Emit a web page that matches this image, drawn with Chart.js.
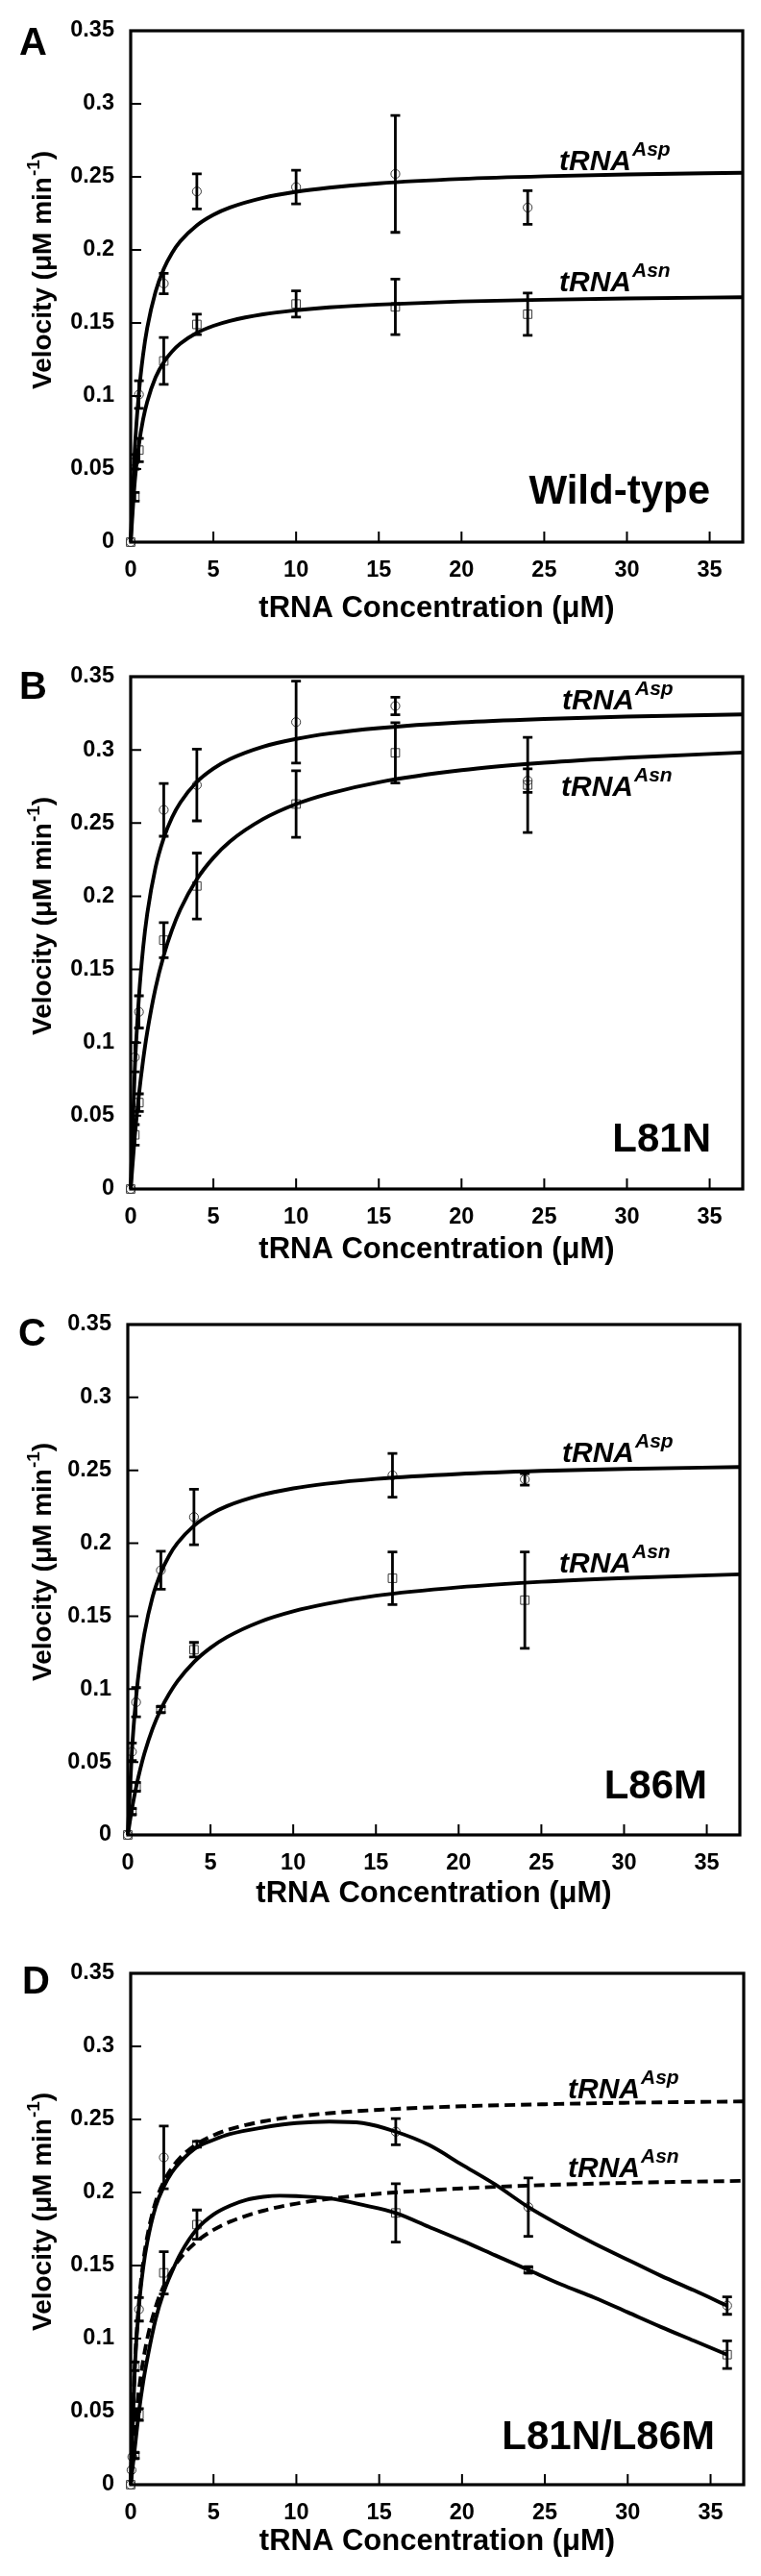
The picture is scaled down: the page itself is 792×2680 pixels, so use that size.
<!DOCTYPE html>
<html><head><meta charset="utf-8">
<script src="https://cdn.jsdelivr.net/npm/chart.js@4.4.1/dist/chart.umd.min.js"></script>
<style>
html,body{margin:0;padding:0;background:#fff;}
#wrap{position:relative;width:792px;height:2680px;background:#fff;overflow:hidden;}
.panel{position:absolute;left:0;width:792px;height:670px;}
canvas{display:block;}
</style></head><body>
<div id="wrap">
<div class="panel" style="top:0px"><canvas id="cA" width="792" height="670"></canvas></div>
<div class="panel" style="top:670px"><canvas id="cB" width="792" height="670"></canvas></div>
<div class="panel" style="top:1340px"><canvas id="cC" width="792" height="670"></canvas></div>
<div class="panel" style="top:2010px"><canvas id="cD" width="792" height="670"></canvas></div>
</div>
<script>
// ---------- tick values / labels ----------
const xTickValues = [0, 5, 10, 15, 20, 25, 30, 35];
const xTickLabels = ['0', '5', '10', '15', '20', '25', '30', '35'];
const yTickValues = [0, 0.05, 0.1, 0.15, 0.2, 0.25, 0.3, 0.35];
const yTickLabels = ['0', '0.05', '0.1', '0.15', '0.2', '0.25', '0.3', '0.35'];

// ---------- Panel A: Wild-type ----------
const aAspConc = [0, 0.25, 0.5, 2, 4, 10, 16, 24];
const aAspVel  = [0, 0.055, 0.101, 0.177, 0.240, 0.243, 0.252, 0.229];
const aAspErr  = [0, 0.005, 0.0095, 0.007, 0.012, 0.0115, 0.040, 0.0115];
const aAsnConc = [0, 0.25, 0.5, 2, 4, 10, 16, 24];
const aAsnVel  = [0, 0.031, 0.063, 0.124, 0.149, 0.163, 0.161, 0.156];
const aAsnErr  = [0, 0.003, 0.008, 0.016, 0.007, 0.009, 0.019, 0.0145];
const fitConc  = [0, 0.25, 0.5, 0.75, 1, 1.5, 2, 2.5, 3, 4, 5, 6, 8, 10, 12, 15, 20, 25, 30, 37];
const aAspFit  = [0, 0.0639, 0.1024, 0.1281, 0.1466, 0.1712, 0.1870, 0.1979, 0.2059, 0.2168, 0.2240, 0.2290, 0.2356, 0.2398, 0.2426, 0.2456, 0.2486, 0.2504, 0.2516, 0.2528];
const aAsnFit  = [0, 0.0415, 0.0668, 0.0839, 0.0961, 0.1126, 0.1231, 0.1304, 0.1358, 0.1432, 0.1480, 0.1514, 0.1559, 0.1587, 0.1607, 0.1626, 0.1647, 0.1659, 0.1668, 0.1676];

// ---------- Panel B: L81N ----------
const bAspConc = [0, 0.25, 0.5, 2, 4, 10, 16, 24];
const bAspVel  = [0, 0.090, 0.121, 0.259, 0.276, 0.319, 0.330, 0.279];
const bAspErr  = [0, 0.010, 0.011, 0.018, 0.0245, 0.028, 0.006, 0.008];
const bAsnConc = [0, 0.25, 0.5, 2, 4, 10, 16, 24];
const bAsnVel  = [0, 0.037, 0.059, 0.170, 0.207, 0.263, 0.298, 0.276];
const bAsnErr  = [0, 0.007, 0.006, 0.012, 0.0225, 0.0227, 0.0206, 0.0325];
const bAspFit  = [0, 0.0819, 0.1313, 0.1644, 0.1880, 0.2196, 0.2398, 0.2538, 0.2640, 0.2781, 0.2872, 0.2937, 0.3022, 0.3075, 0.3112, 0.3149, 0.3188, 0.3211, 0.3227, 0.3242];
const bAsnFit  = [0, 0.0360, 0.0645, 0.0878, 0.1071, 0.1372, 0.1596, 0.1770, 0.1909, 0.2116, 0.2263, 0.2374, 0.2527, 0.2630, 0.2702, 0.2779, 0.2861, 0.2912, 0.2947, 0.2982];

// ---------- Panel C: L86M ----------
const cAspConc = [0, 0.25, 0.5, 2, 4, 16, 24];
const cAspVel  = [0, 0.057, 0.091, 0.1815, 0.218, 0.2466, 0.2438];
const cAspErr  = [0, 0.006, 0.010, 0.013, 0.019, 0.015, 0.004];
const cAsnConc = [0, 0.25, 0.5, 2, 4, 16, 24];
const cAsnVel  = [0, 0.016, 0.033, 0.086, 0.127, 0.176, 0.161];
const cAsnErr  = [0, 0.002, 0.003, 0.002, 0.005, 0.018, 0.033];
const cAspFit  = [0, 0.0575, 0.0941, 0.1194, 0.1379, 0.1633, 0.1798, 0.1915, 0.2001, 0.2120, 0.2199, 0.2255, 0.2329, 0.2376, 0.2408, 0.2441, 0.2475, 0.2496, 0.2510, 0.2523];
const cAsnFit  = [0, 0.0178, 0.0326, 0.0450, 0.0557, 0.0729, 0.0862, 0.0967, 0.1054, 0.1186, 0.1283, 0.1357, 0.1462, 0.1533, 0.1584, 0.1640, 0.1698, 0.1736, 0.1762, 0.1787];

// ---------- Panel D: L81N/L86M ----------
const dAspConc = [0, 0.05, 0.1, 0.25, 0.5, 2, 4, 16, 24, 36];
const dAspVel  = [0, 0.010, 0.019, 0.081, 0.120, 0.224, 0.233, 0.2416, 0.190, 0.1226];
const dAspErr  = [0, 0, 0, 0.003, 0.008, 0.0215, 0.002, 0.009, 0.020, 0.006];
const dAsnConc = [0, 0.25, 0.5, 2, 4, 16, 24, 36];
const dAsnVel  = [0, 0.020, 0.048, 0.145, 0.178, 0.186, 0.147, 0.089];
const dAsnErr  = [0, 0.002, 0.004, 0.0145, 0.010, 0.020, 0.002, 0.0095];
const dAspDashFit = [0, 0.0815, 0.1248, 0.1517, 0.1699, 0.1933, 0.2075, 0.2171, 0.2240, 0.2332, 0.2392, 0.2433, 0.2487, 0.2520, 0.2543, 0.2566, 0.2590, 0.2604, 0.2614, 0.2623];
const dAsnDashFit = [0, 0.0383, 0.0650, 0.0847, 0.0998, 0.1214, 0.1362, 0.1469, 0.1551, 0.1666, 0.1744, 0.1800, 0.1875, 0.1924, 0.1957, 0.1992, 0.2028, 0.2051, 0.2066, 0.2080];
const dAspSolidConc = [0, 0.25, 0.5, 0.75, 1, 1.5, 2, 2.5, 3, 4, 5, 6, 8, 10, 12, 14, 16, 18, 20, 22, 24, 26, 28, 30, 32, 34, 36];
const dAspSolidFit  = [0, 0.080, 0.122, 0.148, 0.166, 0.190, 0.204, 0.214, 0.221, 0.231, 0.236, 0.240, 0.2445, 0.2475, 0.2485, 0.2475, 0.2416, 0.2325, 0.219, 0.2055, 0.190, 0.177, 0.165, 0.154, 0.143, 0.133, 0.1225];
const dAsnSolidConc = [0, 0.25, 0.5, 0.75, 1, 1.5, 2, 2.5, 3, 4, 5, 6, 7, 8, 9, 10, 12, 14, 16, 18, 20, 22, 24, 26, 28, 30, 32, 34, 36];
const dAsnSolidFit  = [0, 0.025, 0.050, 0.070, 0.086, 0.113, 0.132, 0.146, 0.158, 0.175, 0.185, 0.191, 0.195, 0.197, 0.1978, 0.1975, 0.196, 0.1915, 0.186, 0.1765, 0.167, 0.157, 0.147, 0.137, 0.128, 0.118, 0.108, 0.0985, 0.089];

// ---------- drawing helpers ----------
const FONT = "'Liberation Sans', Arial, Helvetica, sans-serif";
Chart.defaults.font.family = FONT;
Chart.defaults.color = '#000';

function pts(xs, ys) { return xs.map((x, i) => ({ x: x, y: ys[i] })); }

function markerSet(label, xs, ys, errs, style) {
  return {
    label: label, type: 'scatter', data: pts(xs, ys), errors: errs, showLine: false,
    pointStyle: style, pointRadius: style === 'rect' ? 6.2 : 4.6, pointBorderWidth: 1,
    pointBorderColor: '#3a3a3a', pointBackgroundColor: 'rgba(255,255,255,0)',
    order: 3, clip: 14
  };
}
function curveSet(label, xs, ys, dash) {
  return {
    label: label, type: 'line', data: pts(xs, ys), borderColor: '#000', borderWidth: 3.9,
    borderDash: dash || [], pointRadius: 0, cubicInterpolationMode: 'monotone', fill: false,
    order: 1, clip: 4
  };
}

function drawSup(ctx, base, sup, x, y) {
  ctx.textAlign = 'left';
  ctx.textBaseline = 'alphabetic';
  ctx.font = 'italic bold 30px ' + FONT;
  ctx.fillText(base, x, y);
  const w = ctx.measureText(base).width;
  ctx.font = 'italic bold 21px ' + FONT;
  ctx.fillText(sup, x + w + 1, y - 15);
}

function makeDeco(spec) {
  return {
    id: 'deco' + spec.letter,
    afterDatasetsDraw(chart) {
      const ctx = chart.ctx, xs = chart.scales.x, ys = chart.scales.y;
      ctx.save();
      ctx.strokeStyle = '#000';
      ctx.lineWidth = 2.8;
      chart.data.datasets.forEach(ds => {
        if (!ds.errors) return;
        ds.data.forEach((p, i) => {
          const e = ds.errors[i];
          if (!e) return;
          const px = xs.getPixelForValue(p.x);
          const y1 = ys.getPixelForValue(p.y + e), y2 = ys.getPixelForValue(p.y - e);
          ctx.beginPath();
          ctx.moveTo(px, y1); ctx.lineTo(px, y2);
          ctx.moveTo(px - 5, y1); ctx.lineTo(px + 5, y1);
          ctx.moveTo(px - 5, y2); ctx.lineTo(px + 5, y2);
          ctx.stroke();
        });
      });
      ctx.restore();
    },
    afterDraw(chart) {
      const ctx = chart.ctx, a = chart.chartArea, xs = chart.scales.x, ys = chart.scales.y;
      ctx.save();
      ctx.strokeStyle = '#000';
      ctx.lineWidth = 3.2;
      ctx.strokeRect(a.left, a.top, a.right - a.left, a.bottom - a.top);
      ctx.lineWidth = 2;
      ctx.beginPath();
      xs.ticks.forEach(t => {
        const px = xs.getPixelForValue(t.value);
        ctx.moveTo(px, a.bottom); ctx.lineTo(px, a.bottom - 11);
      });
      ys.ticks.forEach(t => {
        const py = ys.getPixelForValue(t.value);
        ctx.moveTo(a.left, py); ctx.lineTo(a.left + 11, py);
      });
      ctx.stroke();

      ctx.fillStyle = '#000';
      ctx.textBaseline = 'alphabetic';
      ctx.textAlign = 'left';
      ctx.font = 'bold 40px ' + FONT;
      ctx.fillText(spec.letter, spec.letterX, spec.letterY);
      ctx.font = 'bold 42px ' + FONT;
      ctx.textAlign = 'right';
      ctx.fillText(spec.name, spec.nameX, spec.nameY);

      drawSup(ctx, 'tRNA', 'Asp', spec.aspX, spec.aspY);
      drawSup(ctx, 'tRNA', 'Asn', spec.asnX, spec.asnY);

      // y-axis title with superscript
      ctx.translate(spec.yTitleX, spec.yTitleStart);
      ctx.rotate(-Math.PI / 2);
      ctx.textAlign = 'left';
      ctx.font = 'bold 28px ' + FONT;
      const t1 = 'Velocity (\u03BCM min';
      ctx.fillText(t1, 0, 0);
      let w = ctx.measureText(t1).width;
      ctx.font = 'bold 19px ' + FONT;
      ctx.fillText('-1', w + 1, -12);
      w += ctx.measureText('-1').width + 1;
      ctx.font = 'bold 28px ' + FONT;
      ctx.fillText(')', w, 0);
      ctx.restore();
    }
  };
}

function makeChart(canvasId, spec, datasets) {
  const H = 670;
  return new Chart(document.getElementById(canvasId), {
    type: 'scatter',
    data: { datasets: datasets },
    options: {
      responsive: false, animation: false, devicePixelRatio: 1, events: [],
      layout: { padding: { left: 0, top: spec.top, right: 792 - spec.right, bottom: 0 } },
      plugins: { legend: { display: false }, tooltip: { enabled: false } },
      scales: {
        x: {
          type: 'linear', position: 'bottom', min: 0, max: 37,
          afterBuildTicks: s => { s.ticks = xTickValues.map(v => ({ value: v })); },
          afterFit: s => { s.height = H - spec.bottom; },
          grid: { display: false, drawTicks: false }, border: { display: false },
          ticks: { padding: spec.xTickPad, autoSkip: false, maxRotation: 0, color: '#000',
                   font: { size: 23.5, weight: 'bold' }, callback: (v, i) => xTickLabels[i] },
          title: { display: true, text: 'tRNA Concentration (\u03BCM)', color: '#000',
                   font: { size: 31, weight: 'bold', lineHeight: 1.2 },
                   padding: { top: 0, bottom: spec.xTitlePad } }
        },
        y: {
          type: 'linear', position: 'left', min: 0, max: 0.35,
          afterBuildTicks: s => { s.ticks = yTickValues.map(v => ({ value: v })); },
          afterFit: s => { s.width = spec.left; },
          grid: { display: false, drawTicks: false }, border: { display: false },
          ticks: { padding: 17, autoSkip: false, color: '#000',
                   font: { size: 23.5, weight: 'bold' }, callback: (v, i) => yTickLabels[i] }
        }
      }
    },
    plugins: [makeDeco(spec)]
  });
}

const specA = { left: 136, right: 773, top: 32, bottom: 564, xTickPad: 15, xTitlePad: 18,
  letter: 'A', letterX: 20, letterY: 57, name: 'Wild-type', nameX: 739, nameY: 524,
  aspX: 582, aspY: 177, asnX: 582, asnY: 303, yTitleX: 53, yTitleStart: 405 };
const specB = { left: 136, right: 773, top: 34, bottom: 567, xTickPad: 15, xTitlePad: 21,
  letter: 'B', letterX: 20, letterY: 57, name: 'L81N', nameX: 740, nameY: 528,
  aspX: 585, aspY: 68, asnX: 584, asnY: 158, yTitleX: 53, yTitleStart: 407 };
const specC = { left: 133, right: 770, top: 38, bottom: 569, xTickPad: 15, xTitlePad: 21,
  letter: 'C', letterX: 19, letterY: 60, name: 'L86M', nameX: 736, nameY: 531,
  aspX: 585, aspY: 181, asnX: 582, asnY: 296, yTitleX: 53, yTitleStart: 409 };
const specD = { left: 136, right: 774, top: 43, bottom: 575, xTickPad: 15, xTitlePad: 17,
  letter: 'D', letterX: 23, letterY: 64, name: 'L81N/L86M', nameX: 744, nameY: 538,
  aspX: 591, aspY: 173, asnX: 591, asnY: 255, yTitleX: 53, yTitleStart: 415 };

makeChart('cA', specA, [
  markerSet('tRNA Asp', aAspConc, aAspVel, aAspErr, 'circle'),
  markerSet('tRNA Asn', aAsnConc, aAsnVel, aAsnErr, 'rect'),
  curveSet('Asp fit', fitConc, aAspFit),
  curveSet('Asn fit', fitConc, aAsnFit)
]);
makeChart('cB', specB, [
  markerSet('tRNA Asp', bAspConc, bAspVel, bAspErr, 'circle'),
  markerSet('tRNA Asn', bAsnConc, bAsnVel, bAsnErr, 'rect'),
  curveSet('Asp fit', fitConc, bAspFit),
  curveSet('Asn fit', fitConc, bAsnFit)
]);
makeChart('cC', specC, [
  markerSet('tRNA Asp', cAspConc, cAspVel, cAspErr, 'circle'),
  markerSet('tRNA Asn', cAsnConc, cAsnVel, cAsnErr, 'rect'),
  curveSet('Asp fit', fitConc, cAspFit),
  curveSet('Asn fit', fitConc, cAsnFit)
]);
makeChart('cD', specD, [
  markerSet('tRNA Asp', dAspConc, dAspVel, dAspErr, 'circle'),
  markerSet('tRNA Asn', dAsnConc, dAsnVel, dAsnErr, 'rect'),
  curveSet('Asp MM fit', fitConc, dAspDashFit, [11, 6]),
  curveSet('Asn MM fit', fitConc, dAsnDashFit, [11, 6]),
  curveSet('Asp inhibition fit', dAspSolidConc, dAspSolidFit),
  curveSet('Asn inhibition fit', dAsnSolidConc, dAsnSolidFit)
]);
</script>
</body></html>
